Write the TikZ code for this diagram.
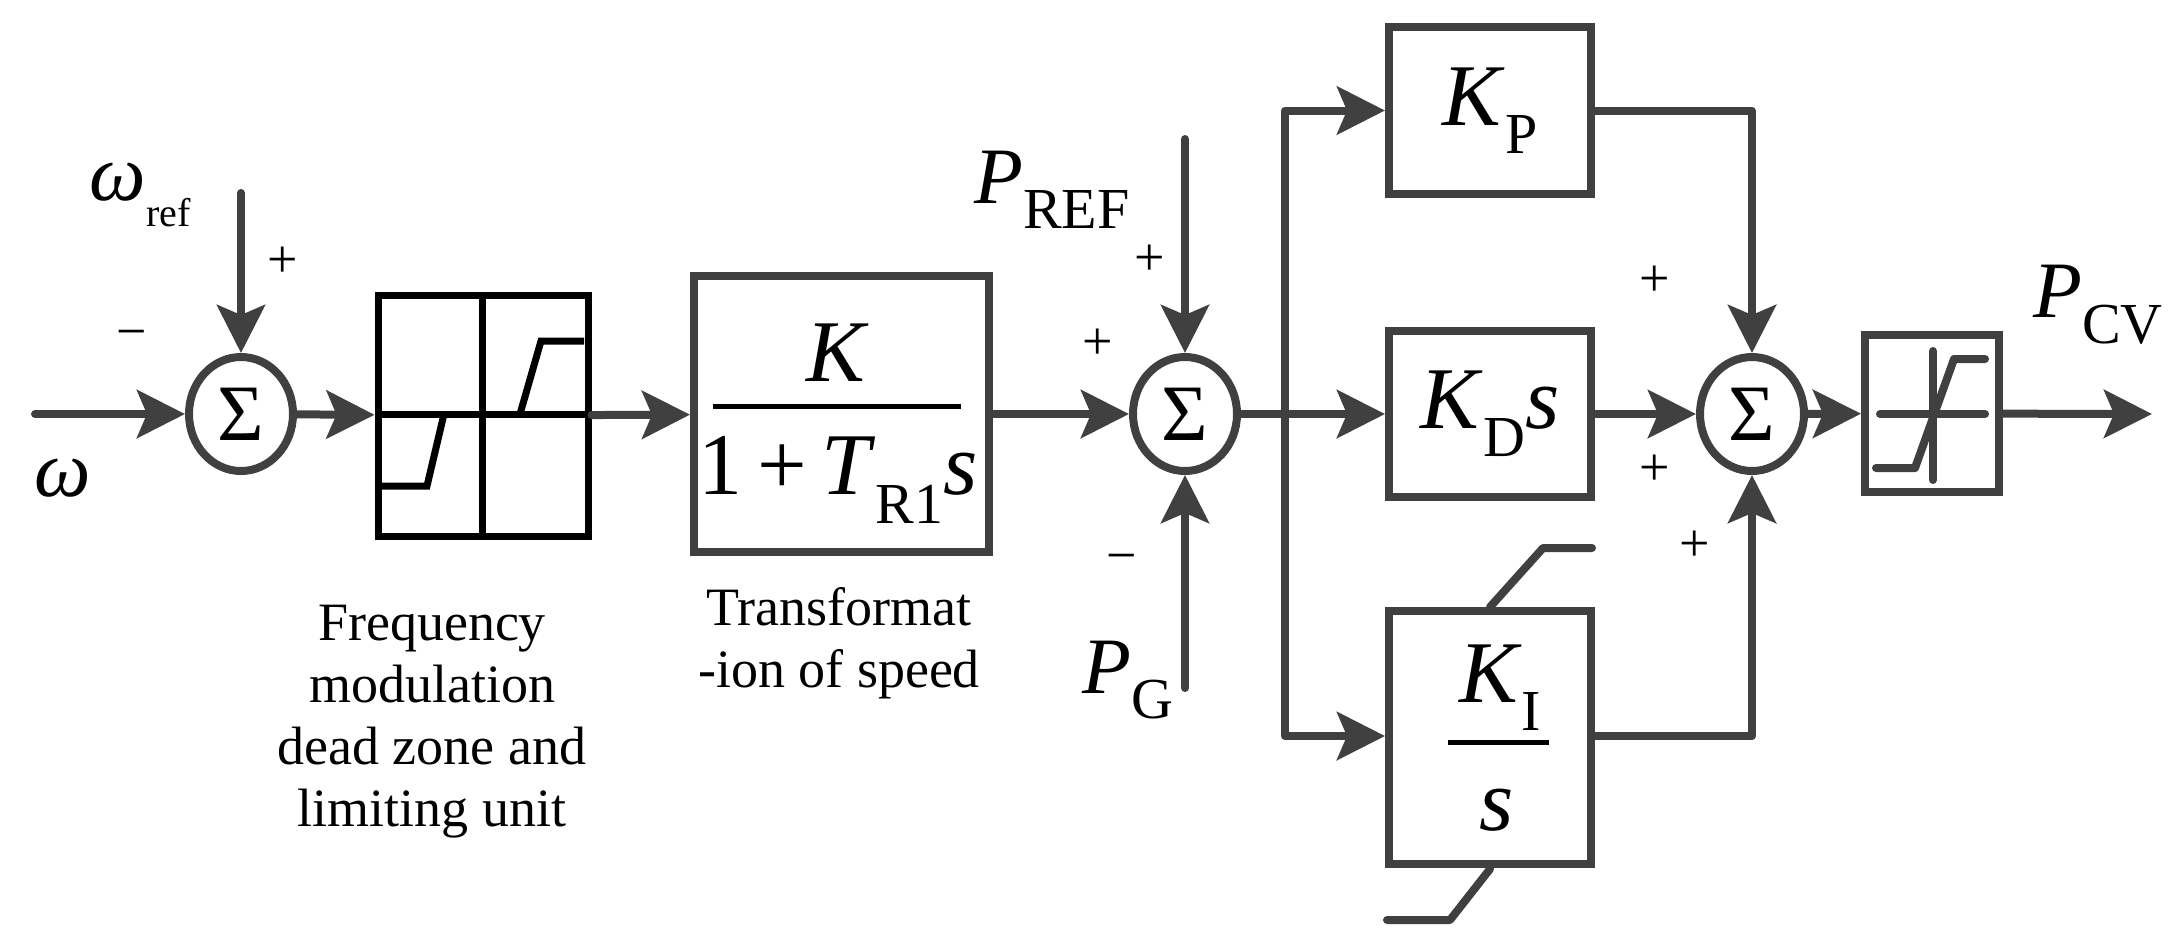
\documentclass[tikz,border=0pt]{standalone}
\usepackage{fontspec}
\setmainfont{Liberation Serif}
\usetikzlibrary{shapes.geometric,arrows.meta}
\definecolor{lc}{HTML}{404040}
\newcommand{\sbx}[1]{\raisebox{-0.32em}{\fontsize{58}{60}\selectfont #1}}
\newcommand{\sbl}[1]{\raisebox{-0.32em}{\fontsize{40}{44}\selectfont #1}}
\begin{document}
\begin{tikzpicture}[x=1pt,y=-1pt,
  ln/.style={draw=lc,line width=8pt,line cap=round,line join=round},
  ar/.style={ln,-{Stealth[length=48pt,width=48pt,inset=10pt]}},
  sum/.style={ellipse,draw=lc,line width=8pt,minimum width=104pt,minimum height=114pt,inner sep=0pt,font=\fontsize{80}{80}\selectfont},
  blk/.style={draw=lc,line width=8pt,inner sep=0pt},
  big/.style={font=\fontsize{88}{90}\selectfont},
  lab/.style={font=\fontsize{54}{62}\selectfont,align=center},
  sg/.style={font=\fontsize{54}{54}\selectfont}]
\useasboundingbox (0,0) rectangle (2179,946);
% nodes
\node[sum] (s1) at (241,414) {Σ};
\node[sum] (s2) at (1185,414) {Σ};
\node[sum] (s3) at (1752,414) {Σ};
\node[draw=black,line width=7pt,minimum width=210pt,minimum height=241pt,inner sep=0pt] (dz) at (483,415.5) {};
\node[blk,minimum width=295pt,minimum height=276pt] (tf) at (841.5,414) {};
\node[blk,minimum width=202pt,minimum height=167pt,big] (kp) at (1490,110.5) {\textit{K}\sbx{P}};
\node[blk,minimum width=202pt,minimum height=166pt,big] (kd) at (1490,414) {\textit{K}\sbx{D}\textit{s}};
\node[blk,minimum width=202pt,minimum height=253pt] (ki) at (1490,737.5) {};
\node[blk,minimum width=134pt,minimum height=157pt] (sat) at (1932,413.5) {};
% tf contents
\draw[black,line width=5pt] (713,406) -- (961,406);
\node[big] (tfn) at (838,353) {\textit{K}};
\node[big] (tfd) at (838,480) {1\,+\,\textit{T}\sbx{R1}\textit{s}};
% ki contents
\draw[black,line width=5pt] (1448,742) -- (1549,742);
\node[big] (kin) at (1500,688) {\textit{K}\sbx{I}};
\node[big] (kid) at (1497,810) {\textit{s}};
\draw[ln] (1490,607) -- (1543,548) -- (1592,548);
\draw[ln] (1490,869) -- (1450,920) -- (1387,920);
% dead zone contents
\draw[black,line width=7pt] (482,295) -- (482,536) (378,414) -- (588,414);
\draw[black,line width=7pt] (378,486) -- (427,486) -- (444,414) (520,414) -- (541,341) -- (584,341);
% saturation contents
\draw[ln] (1880,414) -- (1985,414) (1933,351) -- (1933,480);
\draw[ln] (1876,468) -- (1915,468) -- (1954,359) -- (1985,359);
% coordinates
\coordinate (w0) at (35,414);
\coordinate (wr) at (241,193);
\coordinate (pr) at (1185,139);
\coordinate (pg) at (1185,688);
\coordinate (br) at (1285,414);
\coordinate (out) at (2152,414);
% connectors
\draw[ar] (w0) -- (s1);
\draw[ar] (wr) -- (s1);
\draw[ar] (s1) -- (dz);
\draw[ar] (dz) -- (tf);
\draw[ar] (tf) -- (s2);
\draw[ar] (pr) -- (s2);
\draw[ar] (pg) -- (s2);
\draw[ln] (s2) -- (br);
\draw[ar] (br) -- (kd);
\draw[ar] (br) |- (kp);
\draw[ar] (br) |- (ki.west |- 0,736);
\draw[ar] (kp) -| (s3);
\draw[ar] (kd) -- (s3);
\draw[ar] (ki.east |- 0,736) -| (s3);
\draw[ar] (s3) -- (sat);
\draw[ar] (sat) -- (out);
% labels
\node[font=\fontsize{80}{80}\selectfont] (lw) at (63,478) {\textit{ω}};
\node[font=\fontsize{80}{80}\selectfont] (lwr) at (140,195) {\textit{ω}\sbl{ref}};
\node[sg] (p1) at (283,262) {+};
\node[sg] (m1) at (132,340) {−};
\node[font=\fontsize{80}{80}\selectfont] (lpr) at (1052,190) {\textit{P}\sbx{REF}};
\node[sg] (p2) at (1150,260) {+};
\node[sg] (p3) at (1098,344) {+};
\node[sg] (m2) at (1122,564) {−};
\node[font=\fontsize{80}{80}\selectfont] (lpg) at (1128,680) {\textit{P}\sbx{G}};
\node[sg] (p4) at (1655,281) {+};
\node[sg] (p5) at (1655,470) {+};
\node[sg] (p6) at (1695,546) {+};
\node[font=\fontsize{80}{80}\selectfont] (lpcv) at (2098,305) {\textit{P}\sbx{CV}};
\node[lab] (t1) at (432,722) {Frequency\\modulation\\dead zone and\\limiting unit};
\node[lab] (t2) at (839,643) {Transformat\\-ion of speed};
\end{tikzpicture}
\end{document}
